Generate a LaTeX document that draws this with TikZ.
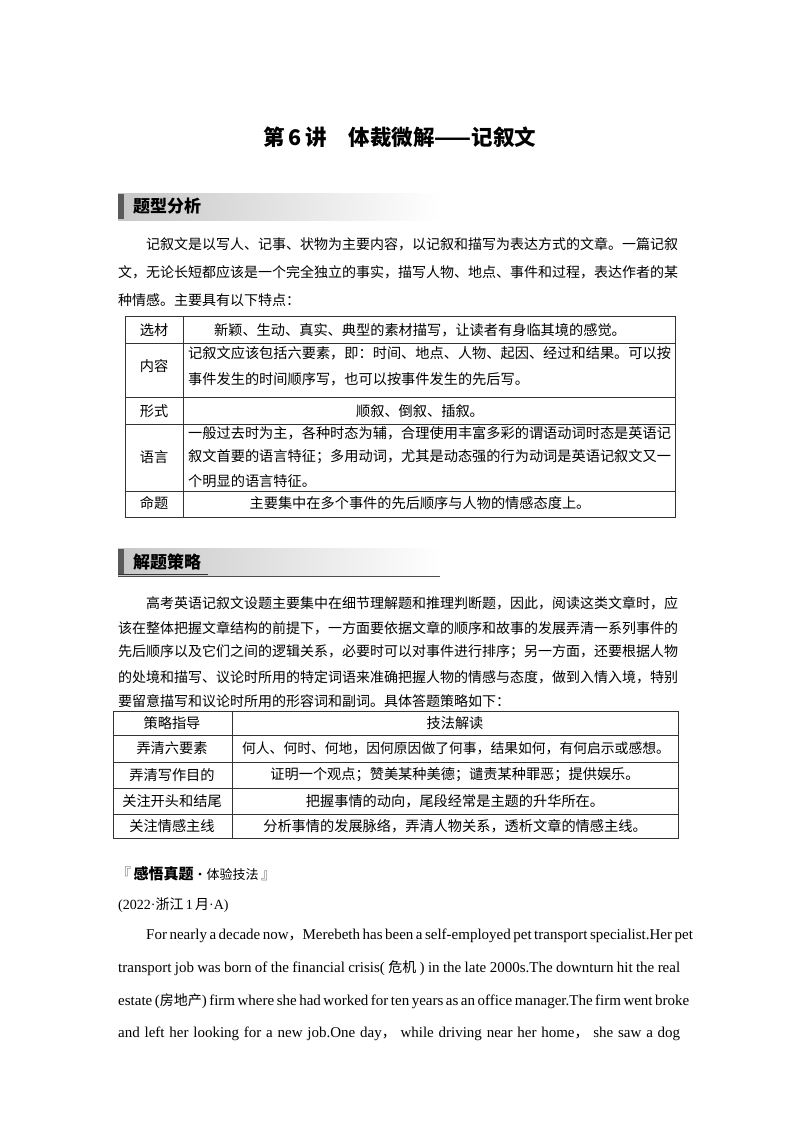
\documentclass[tikz,border=0pt]{standalone}
\usepackage{fontspec}
\setmainfont{Noto Sans CJK SC}
\newfontfamily\cjk{Noto Sans CJK SC}
\newfontfamily\en{Liberation Serif}
\newcommand{\zh}[2][14]{{\cjk\fontsize{#1}{#1}\selectfont #2}}
\newcommand{\enl}[1]{\hbox to 534pt{\en\fontsize{15}{15}\selectfont #1}}
\newcommand{\enf}[1]{\hbox to 562pt{\en\fontsize{15}{15}\selectfont #1}}
\tikzset{
 tx/.style={anchor=west,inner sep=0pt,font=\fontsize{14}{14}\selectfont},
 tb/.style={anchor=west,inner sep=0pt,font=\fontsize{14.2}{14.2}\selectfont},
 tc/.style={inner sep=0pt,font=\fontsize{14.2}{14.2}\selectfont},
 grid/.style={line width=0.7pt,black!80},
 hd/.style={anchor=west,inner sep=0pt,font=\bfseries\fontsize{17}{17}\selectfont}
}
\begin{document}
\begin{tikzpicture}[x=1pt,y=-1pt]
\useasboundingbox[fill=white] (0,0) rectangle (800,1132);
\node[inner sep=0pt,font=\bfseries\fontsize{21.5}{21.5}\selectfont] (title) at (400,137) {第\,6\,讲\quad 体裁微解——记叙文};
% header 1
\shade[left color=black!22,right color=white] (118,193) rectangle (440,220);
\fill[black!65] (118,194) rectangle (124,219);
\node[hd] (h1) at (133,206.5) {题型分析};
\node[tx] (p1a) at (146,244) {记叙文是以写人、记事、状物为主要内容，以记叙和描写为表达方式的文章。一篇记叙};
\node[tx] (p1b) at (118,272) {文，无论长短都应该是一个完全独立的事实，描写人物、地点、事件和过程，表达作者的某};
\node[tx] (p1c) at (118,300) {种情感。主要具有以下特点：};
% table 1
\draw[grid] (125,316) rectangle (675,517);
\foreach \y in {343,397,424,491} \draw[grid] (125,\y) -- (675,\y);
\draw[grid] (183,316) -- (183,517);
\node[tc] (a1) at (154,330) {选材};
\node[tc] (b1) at (420,330) {新颖、生动、真实、典型的素材描写，让读者有身临其境的感觉。};
\node[tc] (a2) at (154,366) {内容};
\node[tb] (b2a) at (188,353) {记叙文应该包括六要素，即：时间、地点、人物、起因、经过和结果。可以按};
\node[tb] (b2b) at (188,379) {事件发生的时间顺序写，也可以按事件发生的先后写。};
\node[tc] (a3) at (154,411) {形式};
\node[tc] (b3) at (420,411) {顺叙、倒叙、插叙。};
\node[tc] (a4) at (154,457) {语言};
\node[tb] (b4a) at (188,433) {一般过去时为主，各种时态为辅，合理使用丰富多彩的谓语动词时态是英语记};
\node[tb] (b4b) at (188,457) {叙文首要的语言特征；多用动词，尤其是动态强的行为动词是英语记叙文又一};
\node[tb] (b4c) at (188,481) {个明显的语言特征。};
\node[tc] (a5) at (154,503) {命题};
\node[tc] (b5) at (420,503) {主要集中在多个事件的先后顺序与人物的情感态度上。};
% header 2
\shade[left color=black!22,right color=white] (118,548) rectangle (440,575);
\fill[black!65] (118,549) rectangle (124,574);
\draw[black!70,line width=0.8pt] (118,576) -- (440,576);
\draw[black!80,line width=0.8pt] (118,574.5) -- (208,574.5);
\node[hd] (h2) at (133,561.5) {解题策略};
\node[tx] (p2a) at (146,603) {高考英语记叙文设题主要集中在细节理解题和推理判断题，因此，阅读这类文章时，应};
\node[tx] (p2b) at (118,628) {该在整体把握文章结构的前提下，一方面要依据文章的顺序和故事的发展弄清一系列事件的};
\node[tx] (p2c) at (118,652) {先后顺序以及它们之间的逻辑关系，必要时可以对事件进行排序；另一方面，还要根据人物};
\node[tx] (p2d) at (118,677) {的处境和描写、议论时所用的特定词语来准确把握人物的情感与态度，做到入情入境，特别};
\node[tx] (p2e) at (118,701) {要留意描写和议论时所用的形容词和副词。具体答题策略如下：};
% table 2
\draw[grid] (113,711) rectangle (678,838);
\foreach \y in {735,762,788,814} \draw[grid] (113,\y) -- (678,\y);
\draw[grid] (232,711) -- (232,838);
\node[tc] (s0) at (172,723) {策略指导};
\node[tc] (t0) at (455,723) {技法解读};
\node[tc] (s1) at (172,748.5) {弄清六要素};
\node[tc,font=\fontsize{13.8}{13.8}\selectfont] (t1) at (456,748.5) {何人、何时、何地，因何原因做了何事，结果如何，有何启示或感想。};
\node[tc] (s2) at (172,775) {弄清写作目的};
\node[tc] (t2) at (455,775) {证明一个观点；赞美某种美德；谴责某种罪恶；提供娱乐。};
\node[tc] (s3) at (172,801) {关注开头和结尾};
\node[tc] (t3) at (455,801) {把握事情的动向，尾段经常是主题的升华所在。};
\node[tc] (s4) at (172,826) {关注情感主线};
\node[tc] (t4) at (455,826) {分析事情的发展脉络，弄清人物关系，透析文章的情感主线。};
% example
\node[anchor=west,inner sep=0pt,font=\fontsize{15}{15}\selectfont] (br) at (116,874) {\textcolor{black!60}{『}\,\textbf{感悟真题}{\fontsize{13}{13}\selectfont·体验技法}\,\textcolor{black!60}{』}};
\node[tx] (src) at (118,905) {{\en(2022·}浙江\,{\en 1\,}月{\en·A)}};
\node[tx] (e1) at (146,936) {\enl{For nearly a decade now\zh{，}Merebeth has been a self-employed pet transport specialist.Her pet}};
\node[tx] (e2) at (118,968) {\enf{transport job was born of the financial crisis( \zh{危机} ) in the late 2000s.The downturn hit the real}};
\node[tx] (e3) at (118,1001) {\enf{estate (\zh{房地产}) firm where she had worked for ten years as an office manager.The firm went broke}};
\node[tx] (e4) at (118,1034) {\enf{and left her looking for a new job.One day\zh{，} while driving near her home\zh{，} she saw a dog}};
\end{tikzpicture}
\end{document}
